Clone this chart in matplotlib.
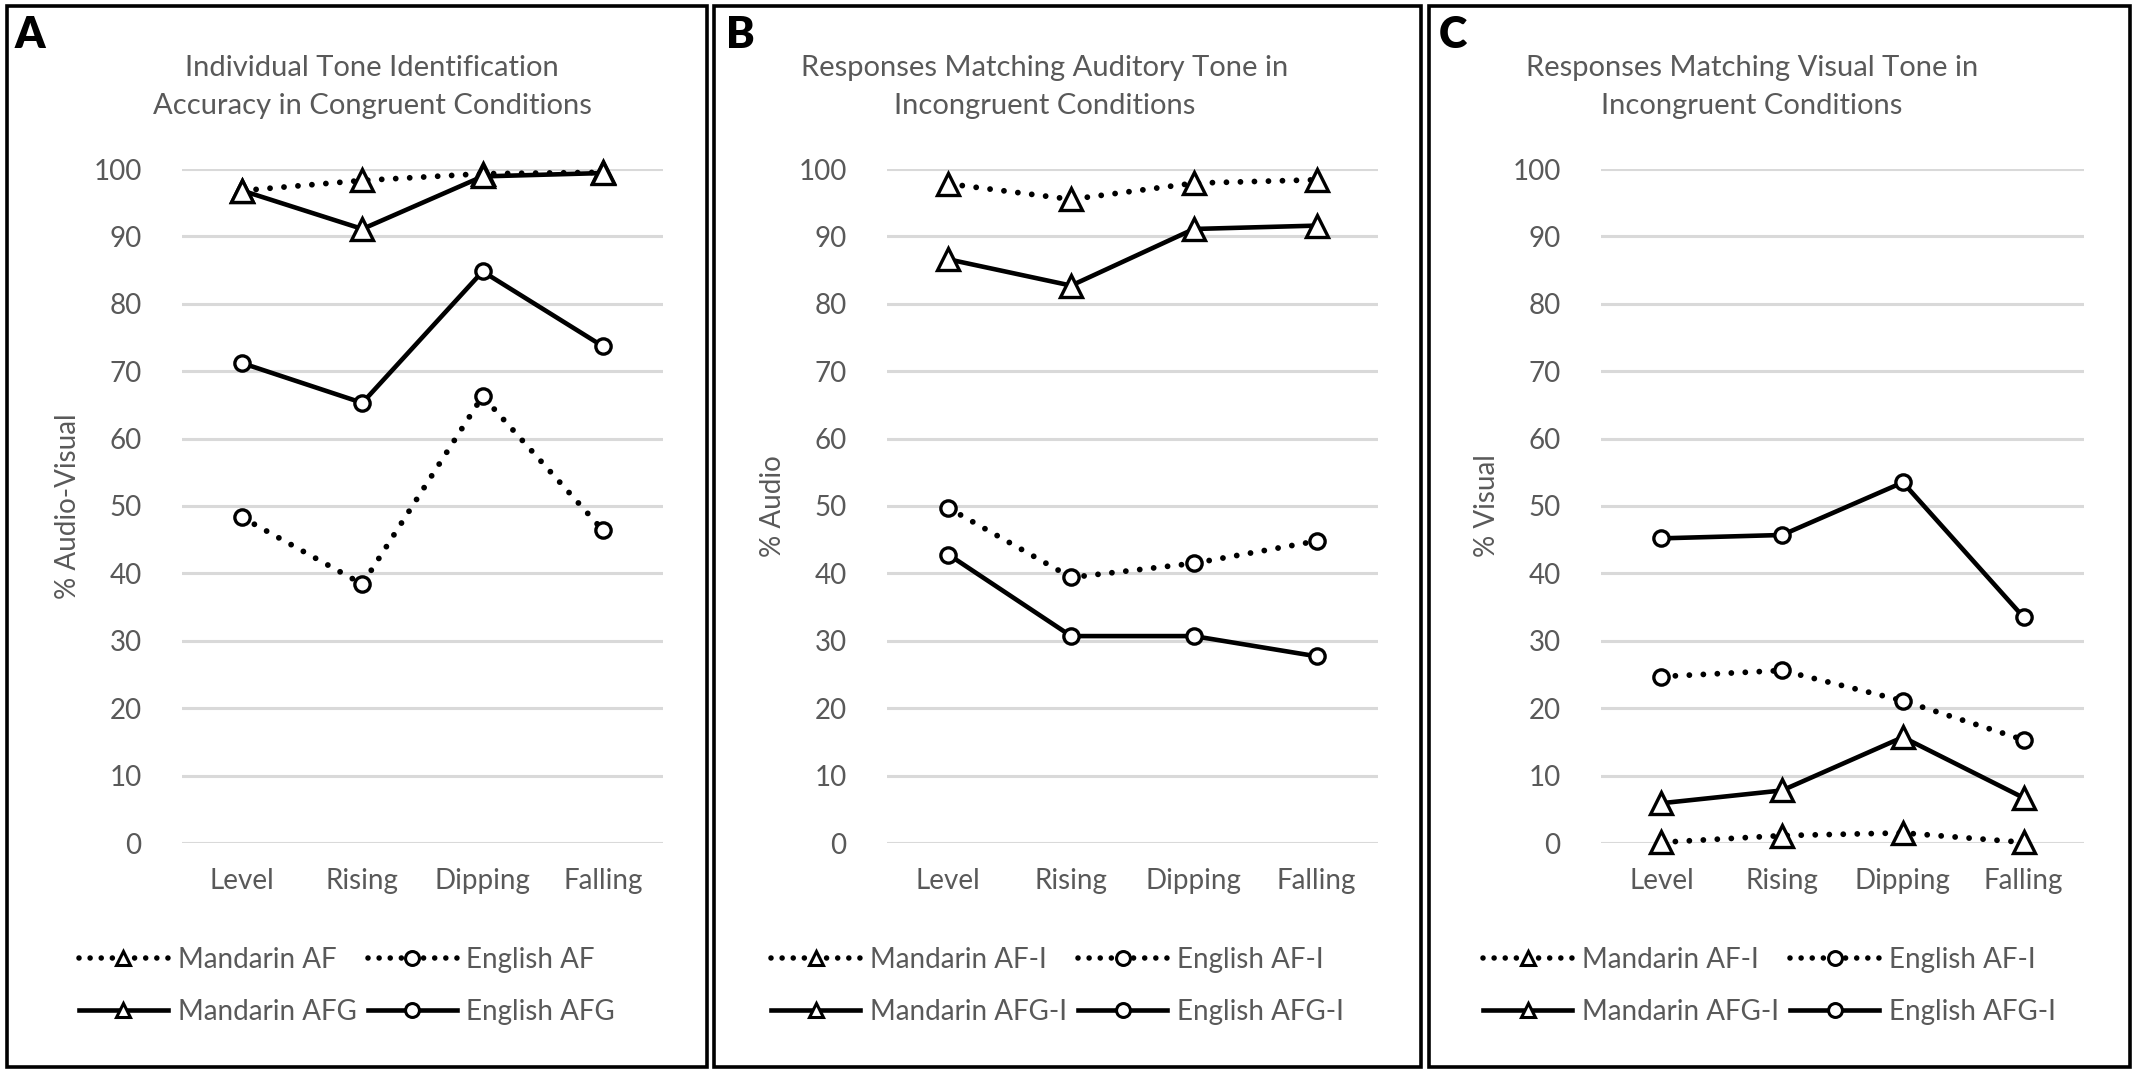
import matplotlib
matplotlib.use("Agg")
from matplotlib import pyplot as plt
from matplotlib.lines import Line2D
from matplotlib.patches import Rectangle

plt.rcParams['font.family'] = ['Lato', 'DejaVu Sans']

tones = ["Level", "Rising", "Dipping", "Falling"]
y_ticks = [0, 10, 20, 30, 40, 50, 60, 70, 80, 90, 100]

# panel A - congruent accuracy
a_mandarin_af = [96.8, 98.3, 99.3, 99.5]
a_english_af = [48.3, 38.4, 66.3, 46.4]
a_mandarin_afg = [96.8, 91.1, 98.9, 99.4]
a_english_afg = [71.2, 65.3, 84.8, 73.7]

# panel B - matching auditory tone
b_mandarin_af = [97.8, 95.5, 97.9, 98.4]
b_english_af = [49.7, 39.4, 41.5, 44.8]
b_mandarin_afg = [86.6, 82.7, 91.1, 91.6]
b_english_afg = [42.8, 30.7, 30.7, 27.7]

# panel C - matching visual tone
c_mandarin_af = [0.1, 1.1, 1.5, 0.1]
c_english_af = [24.7, 25.6, 21.1, 15.3]
c_mandarin_afg = [5.9, 7.8, 15.7, 6.7]
c_english_afg = [45.2, 45.7, 53.5, 33.5]

titles = ["Individual Tone Identification\nAccuracy in Congruent Conditions",
          "Responses Matching Auditory Tone in\nIncongruent Conditions",
          "Responses Matching Visual Tone in\nIncongruent Conditions"]
ylabels = ["% Audio-Visual", "% Audio", "% Visual"]
letters = ["A", "B", "C"]
suffixes = ["", "-I", "-I"]

W, H = 2137, 1076
fig = plt.figure(figsize=(W / 100, H / 100), dpi=100)

grey = "#595959"
fs = 20
dot_style = (0, (0.001, 2.4))
legend_dots = (0, (0.001, 2.0))

# pixel layout: axes left/right, box left/right, title x, letter x
axes_px = [(182, 663), (887, 1378), (1601, 2084)]
box_px = [(7, 707), (714, 1421), (1429, 2130)]
title_x = [372, 1045, 1752]
letter_x = [15, 726, 1439]
y_top, y_bottom = 169, 843

panels = [
    (a_mandarin_af, a_english_af, a_mandarin_afg, a_english_afg),
    (b_mandarin_af, b_english_af, b_mandarin_afg, b_english_afg),
    (c_mandarin_af, c_english_af, c_mandarin_afg, c_english_afg),
]

for i, (m_af, e_af, m_afg, e_afg) in enumerate(panels):
    x0, x1 = axes_px[i]
    ax = fig.add_axes([x0 / W, 1 - y_bottom / H, (x1 - x0) / W, (y_bottom - y_top) / H])
    xs = range(len(tones))

    common = dict(color="black", markerfacecolor="white", markeredgecolor="black",
                  markeredgewidth=2.4, clip_on=False, zorder=3)
    ax.plot(xs, m_af, linestyle=dot_style, linewidth=4.2, dash_capstyle="round",
            marker="^", markersize=16, **common)
    ax.plot(xs, e_af, linestyle=dot_style, linewidth=4.2, dash_capstyle="round",
            marker="o", markersize=11, **common)
    ax.plot(xs, m_afg, linestyle="-", linewidth=3.3,
            marker="^", markersize=16, **common)
    ax.plot(xs, e_afg, linestyle="-", linewidth=3.3,
            marker="o", markersize=11, **common)

    ax.set_xlim(-0.5, 3.5)
    ax.set_ylim(0, 100)
    ax.set_yticks(y_ticks)
    ax.set_xticks(list(xs))
    ax.set_xticklabels(tones)
    ax.tick_params(length=0, labelsize=fs, labelcolor=grey)
    ax.tick_params(axis="y", pad=29)
    ax.tick_params(axis="x", pad=18)
    ax.grid(axis="y", color="#d9d9d9", linewidth=2.2)
    ax.set_axisbelow(True)
    for s in ax.spines.values():
        s.set_visible(False)

    ax.set_ylabel(ylabels[i], fontsize=fs, color=grey)
    ax.yaxis.set_label_coords(-101 / (x1 - x0), 0.5)

    # legend, row-wise order via column-major handles
    suf = suffixes[i]
    h_maf = Line2D([], [], color="black", linestyle=legend_dots, linewidth=4,
                   dash_capstyle="round", marker="^", markersize=10,
                   markerfacecolor="white", markeredgewidth=2.2)
    h_eaf = Line2D([], [], color="black", linestyle=legend_dots, linewidth=4,
                   dash_capstyle="round", marker="o", markersize=10,
                   markerfacecolor="white", markeredgewidth=2.2)
    h_mafg = Line2D([], [], color="black", linestyle="-", linewidth=3.3,
                    marker="^", markersize=10, markerfacecolor="white", markeredgewidth=2.2)
    h_eafg = Line2D([], [], color="black", linestyle="-", linewidth=3.3,
                    marker="o", markersize=10, markerfacecolor="white", markeredgewidth=2.2)
    bx0, bx1 = box_px[i]
    leg = fig.legend([h_maf, h_mafg, h_eaf, h_eafg],
                     ["Mandarin AF" + suf, "Mandarin AFG" + suf,
                      "English AF" + suf, "English AFG" + suf],
                     ncol=2, loc="center", frameon=False, fontsize=fs,
                     bbox_to_anchor=(((bx0 + bx1) / 2 - 10) / W, 1 - 986 / H),
                     handlelength=3.2, handletextpad=0.35, columnspacing=0.4,
                     labelspacing=0.95, borderpad=0, borderaxespad=0)
    for t in leg.get_texts():
        t.set_color(grey)

    fig.text(title_x[i] / W, 1 - 87 / H, titles[i], ha="center", va="center",
             fontsize=fs + 1, color=grey, linespacing=1.6)
    fig.text(letter_x[i] / W, 1 - 15 / H, letters[i], ha="left", va="top",
             fontsize=31, fontweight="heavy", color="black")

    fig.add_artist(Rectangle((bx0 / W, 1 - 1067 / H), (bx1 - bx0) / W, (1067 - 6) / H,
                             transform=fig.transFigure, fill=False,
                             edgecolor="black", linewidth=2.6))

fig.savefig("out.png", dpi=100, facecolor="white")
